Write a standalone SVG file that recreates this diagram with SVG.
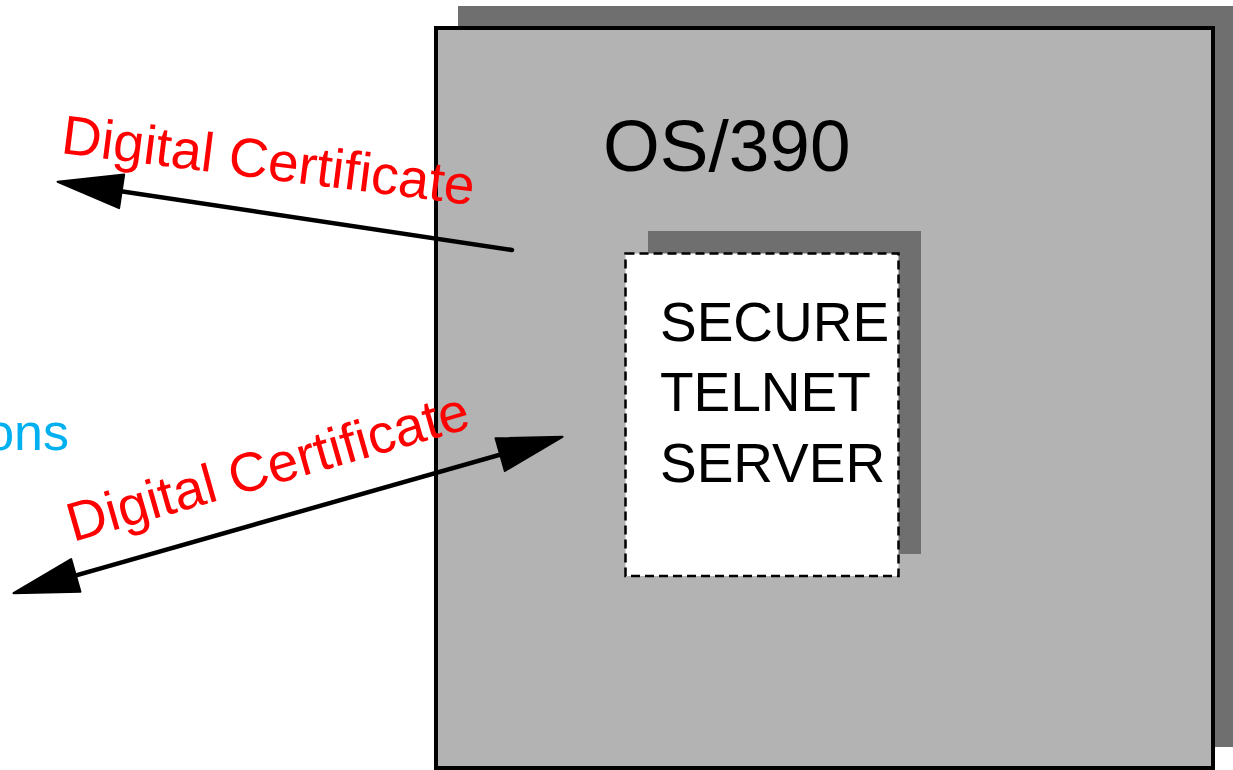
<svg xmlns="http://www.w3.org/2000/svg" width="1233" height="770" viewBox="0 0 1233 770">
  <style>
    .shadow { fill: #6f6f6f; }
    .label { font-family: "Liberation Sans", Arial, sans-serif; fill: #000; }
    .cert { font-family: "Liberation Sans", Arial, sans-serif; font-size: 55px; fill: #ff0000; }
    .conn { stroke: #000; stroke-width: 4.5; fill: none; }
  </style>
  <defs>
    <marker id="arrow" markerUnits="userSpaceOnUse" markerWidth="70" markerHeight="40" viewBox="-2 -18 66 36" refX="53" refY="0" orient="auto-start-reverse">
      <path d="M0,-16 L61,0 L0,16 Z" fill="#000" stroke="#000" stroke-width="2" stroke-linejoin="round"/>
    </marker>
  </defs>
  <rect width="1233" height="770" fill="#ffffff"/>

  <g id="os390">
    <rect class="shadow" x="458" y="6" width="775" height="741"/>
    <rect x="436" y="28" width="777" height="740" fill="#b3b3b3" stroke="#000" stroke-width="4"/>
    <text class="label" x="603" y="171" font-size="73">OS/390</text>
  </g>

  <g id="telnet-server">
    <rect class="shadow" x="648" y="231" width="273" height="323"/>
    <rect x="625.5" y="253.5" width="273" height="322.5" fill="#ffffff" stroke="#000" stroke-width="2.5" stroke-dasharray="9 5"/>
    <text class="label" font-size="55">
      <tspan x="660" y="341">SECURE</tspan>
      <tspan x="660" y="411">TELNET</tspan>
      <tspan x="660" y="482">SERVER</tspan>
    </text>
  </g>

  <g id="client-label">
    <text x="69" y="450" font-family="Liberation Sans, Arial, sans-serif" font-size="52" fill="#00b0f0" text-anchor="end">ons</text>
  </g>

  <g id="connectors">
    <line class="conn" x1="512" y1="250" x2="66" y2="183" stroke-linecap="round" marker-end="url(#arrow)"/>
    <line class="conn" x1="21.7" y1="590.8" x2="554.3" y2="439.2" marker-start="url(#arrow)" marker-end="url(#arrow)"/>
    <text class="cert" transform="translate(60,153) rotate(7.2)">Digital Certificate</text>
    <text class="cert" transform="translate(73,542) rotate(-16)">Digital Certificate</text>
  </g>
</svg>
